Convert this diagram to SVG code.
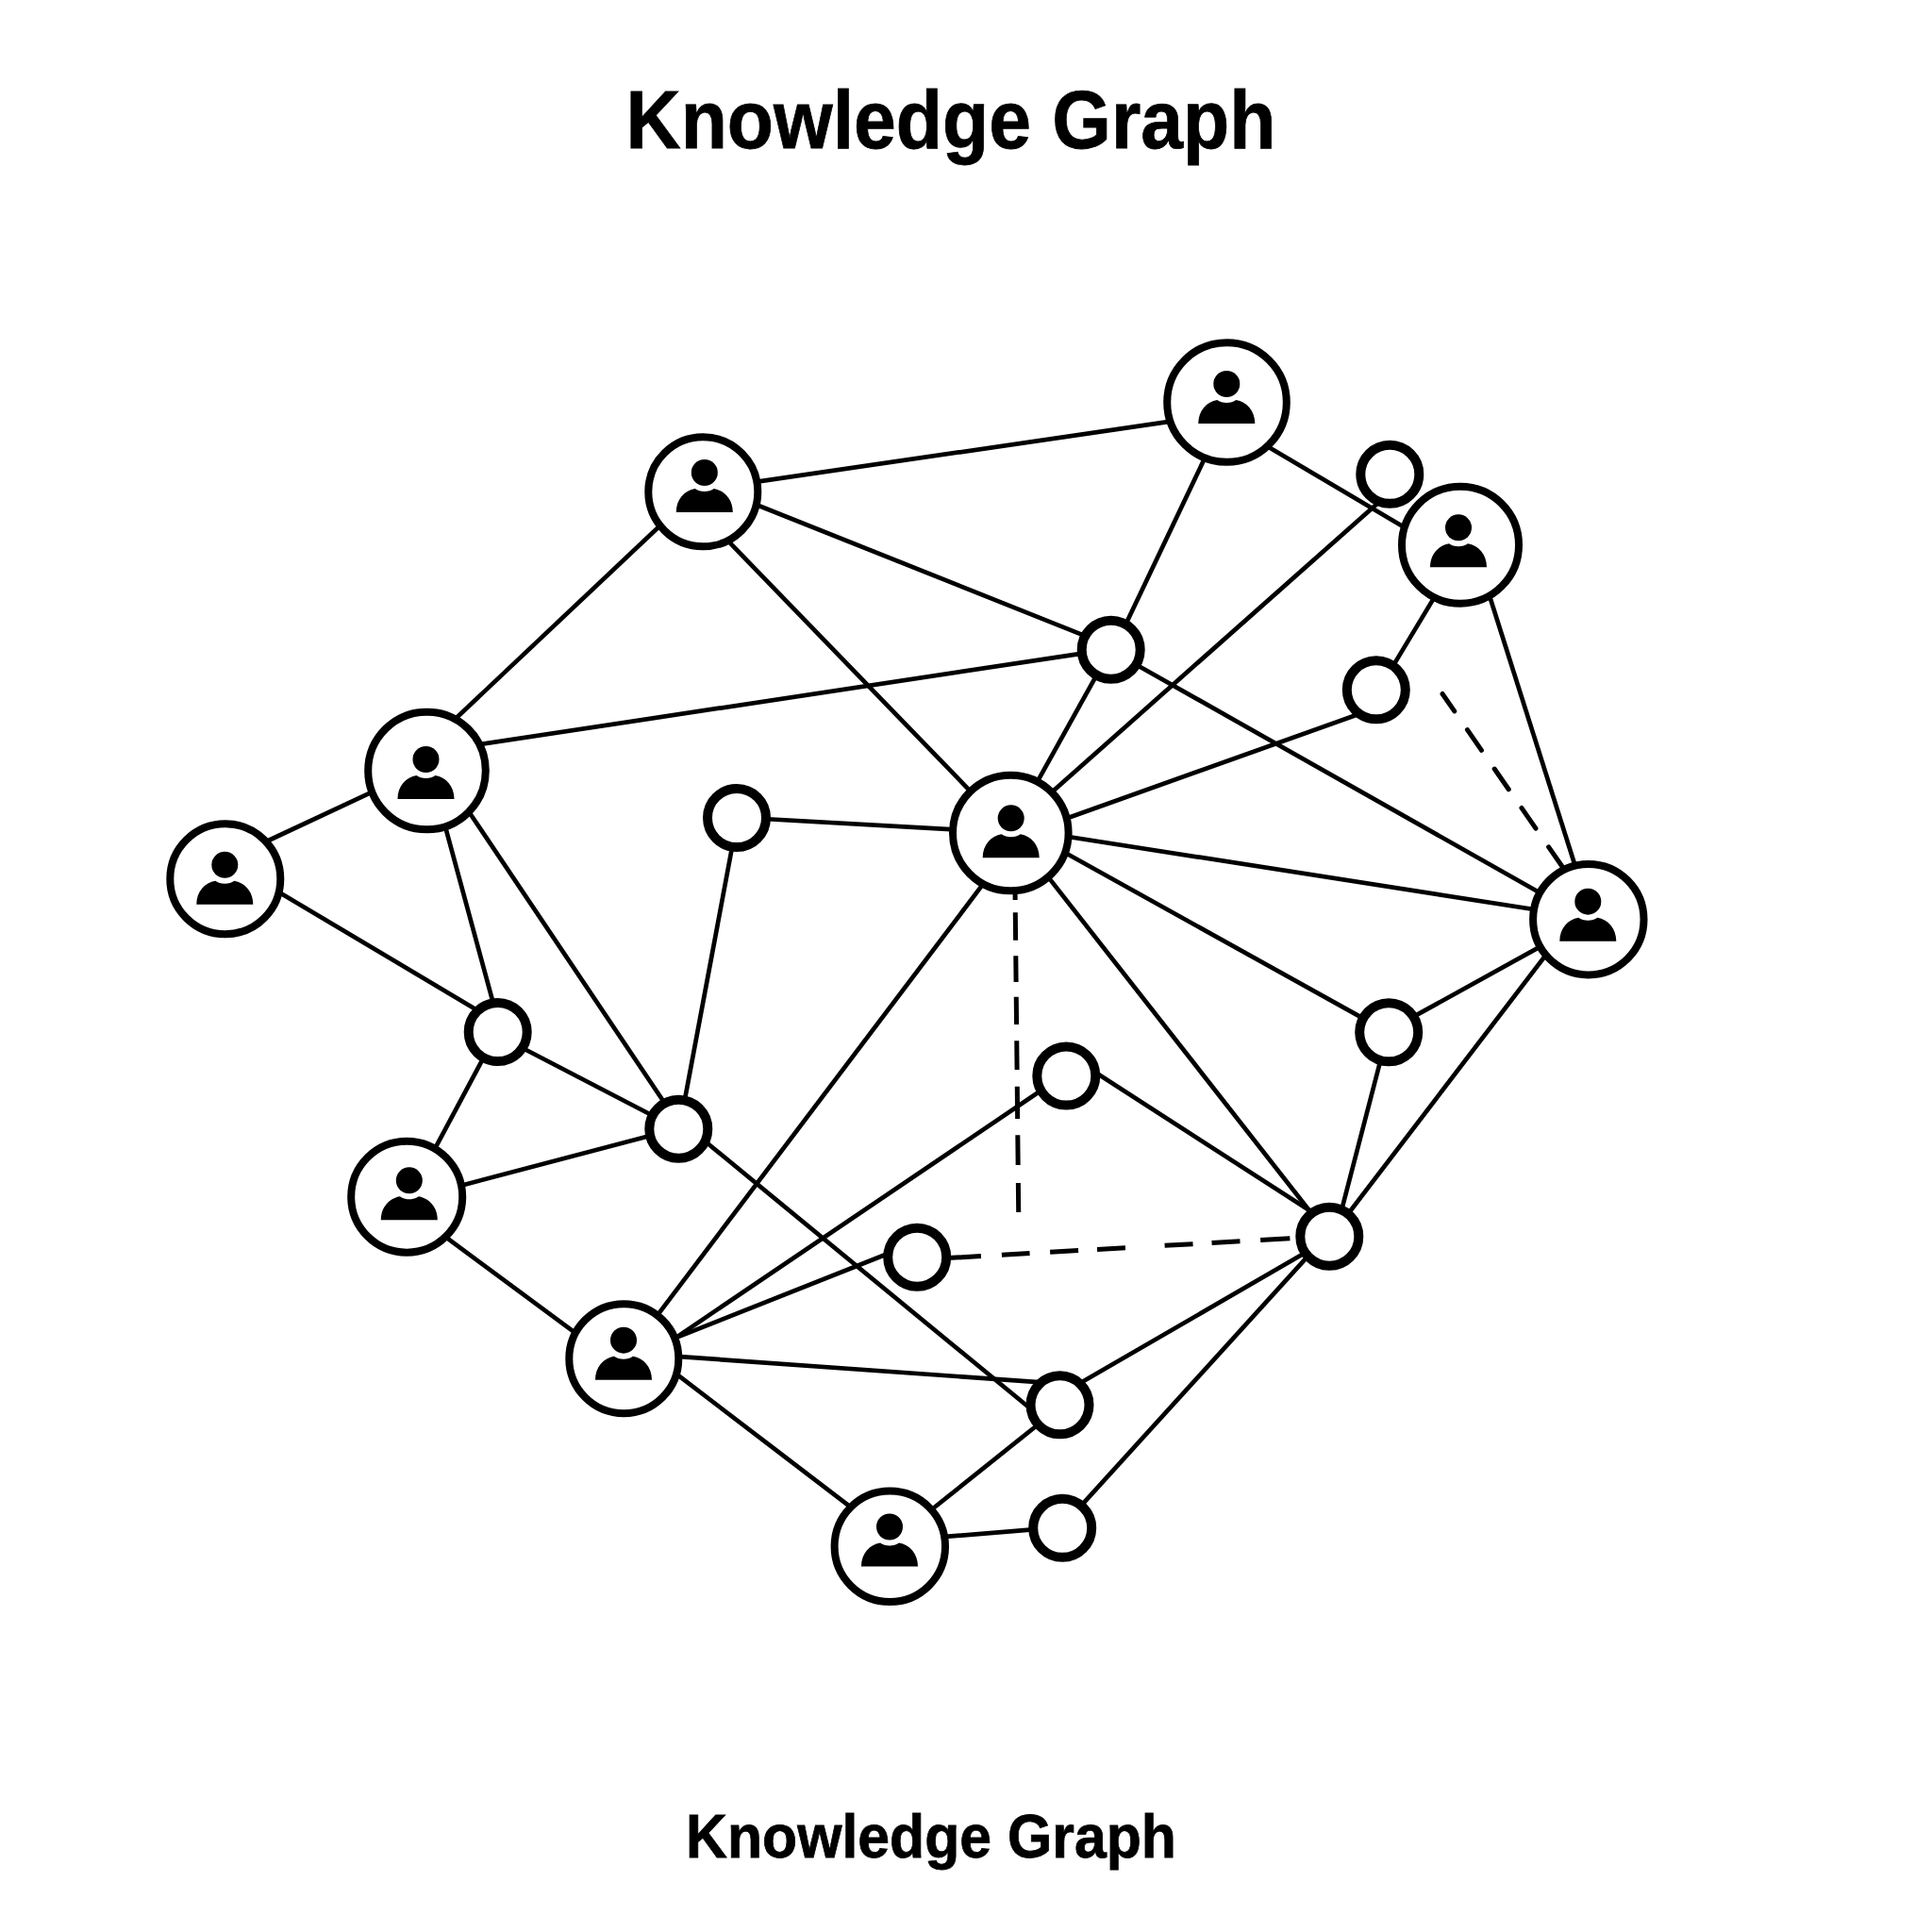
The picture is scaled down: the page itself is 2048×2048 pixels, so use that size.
<svg xmlns="http://www.w3.org/2000/svg" width="2048" height="2048" viewBox="0 0 2048 2048">
<style>
text{font-family:"Liberation Sans",Arial,sans-serif;font-weight:700;fill:#000;stroke:#000;stroke-width:.8;text-anchor:middle}
.e{stroke:#000;stroke-width:4.7;fill:none}
.d{stroke:#000;stroke-width:5;fill:none}
.b{fill:#fff;stroke:#000;stroke-width:8}
.s{fill:#fff;stroke:#000;stroke-width:10}
</style>
<defs>
<g id="person"><circle cx="0" cy="-16" r="14"/><path d="M-30,26C-30,12-21,3-10,1C-5,5 5,5 10,1C21,3 30,12 30,26Z"/></g>
</defs>
<rect width="2048" height="2048" fill="#fff"/>
<text x="1008" y="157" font-size="87" textLength="689" lengthAdjust="spacingAndGlyphs">Knowledge Graph</text>
<text x="987" y="1969" font-size="65" textLength="520" lengthAdjust="spacingAndGlyphs">Knowledge Graph</text>
<g id="connectors">
<line class="e" x1="800.8" y1="510.9" x2="1243.2" y2="446.4"/>
<line class="e" x1="1341.5" y1="472" x2="1491.2" y2="560.4"/>
<line class="e" x1="1277.6" y1="484.6" x2="1192.4" y2="663.7"/>
<line class="e" x1="800.4" y1="534.5" x2="1152.3" y2="674.9"/>
<line class="e" x1="701" y1="556" x2="480.6" y2="764"/>
<line class="e" x1="770.8" y1="572.4" x2="1029.2" y2="839.3"/>
<line class="e" x1="507.4" y1="789.2" x2="1149.2" y2="692.4"/>
<line class="e" x1="395.4" y1="839.2" x2="281.3" y2="892.5"/>
<line class="e" x1="471.7" y1="875.2" x2="523.3" y2="1065.1"/>
<line class="e" x1="496.7" y1="860" x2="705" y2="1170"/>
<line class="e" x1="294.8" y1="945.2" x2="506.9" y2="1071.4"/>
<line class="e" x1="512.8" y1="1120.7" x2="460.5" y2="1218.6"/>
<line class="e" x1="553" y1="1110.5" x2="693.6" y2="1183.5"/>
<line class="e" x1="486.9" y1="1257.2" x2="690.8" y2="1203.5"/>
<line class="e" x1="470.2" y1="1309.7" x2="610.8" y2="1413.6"/>
<line class="e" x1="696.4" y1="1394.8" x2="1043.6" y2="935.2"/>
<line class="e" x1="713.3" y1="1420.1" x2="1105" y2="1155"/>
<line class="e" x1="714.4" y1="1418.9" x2="942.3" y2="1328.5"/>
<line class="e" x1="717.3" y1="1437.9" x2="1104.3" y2="1465.4"/>
<line class="e" x1="716.9" y1="1456.4" x2="903.1" y2="1598.6"/>
<line class="e" x1="985.3" y1="1602" x2="1103" y2="1508"/>
<line class="e" x1="999" y1="1629.2" x2="1097.7" y2="1621.2"/>
<line class="e" x1="1146" y1="1596.1" x2="1385.7" y2="1332.3"/>
<line class="e" x1="1144.8" y1="1466.3" x2="1385.2" y2="1327"/>
<line class="e" x1="747" y1="1209.5" x2="1093" y2="1493.8"/>
<line class="e" x1="777" y1="893" x2="725.5" y2="1168"/>
<line class="e" x1="809" y1="868" x2="1012" y2="879.3"/>
<line class="e" x1="1098.8" y1="830.2" x2="1162.9" y2="714.8"/>
<line class="e" x1="1113.8" y1="840.7" x2="1459.5" y2="534.3"/>
<line class="e" x1="1129.3" y1="868" x2="1442.4" y2="756.3"/>
<line class="e" x1="1130.8" y1="886.8" x2="1627.6" y2="964.2"/>
<line class="e" x1="1128.8" y1="903.8" x2="1445.2" y2="1079.6"/>
<line class="e" x1="1110.3" y1="928.6" x2="1390.4" y2="1286.4"/>
<line class="e" x1="1203" y1="703.7" x2="1635.2" y2="948"/>
<line class="e" x1="1475.2" y1="708.4" x2="1521.4" y2="631.6"/>
<line class="e" x1="1578.2" y1="629.3" x2="1670.1" y2="919"/>
<line class="e" x1="1635.2" y1="1002.1" x2="1498.1" y2="1077.9"/>
<line class="e" x1="1640.3" y1="1010.2" x2="1428.1" y2="1288"/>
<line class="e" x1="1463.8" y1="1122.5" x2="1421.8" y2="1284.1"/>
<line class="e" x1="1157.3" y1="1134.3" x2="1388.3" y2="1283.2"/>
<line class="d" x1="1076" y1="940" x2="1079.7" y2="1285" stroke-dasharray="14 13.3 29.4 16.6 27.7 15.7 29.3 17.3 30.7 17.7 34.3 17.3 31.7 19 31"/>
<line class="d" x1="1000" y1="1333.8" x2="1368" y2="1312.7" stroke-dasharray="40 22 29.7 21.6 30 20 30 41.7 30 20 30 21.7 31.3"/>
<line class="d" stroke-linecap="round" x1="1529" y1="735.5" x2="1657" y2="920" stroke-dasharray="22.4 24 26.4 24 26.4 24 26.4 24 26.4"/>
</g>
<g id="n1"><circle class="b" cx="1300.5" cy="426.5" r="63.3"/><use href="#person" x="1300.3" y="423"/></g>
<g id="n2"><circle class="b" cx="745.3" cy="521.3" r="58"/><use href="#person" x="746.8" y="517"/></g>
<g id="n3"><circle class="b" cx="1548" cy="577.7" r="62"/><use href="#person" x="1546" y="575.3"/></g>
<g id="n4"><circle class="b" cx="452.5" cy="817" r="62.3"/><use href="#person" x="451.5" y="821"/></g>
<g id="n5"><circle class="b" cx="1071.3" cy="883" r="61.3"/><use href="#person" x="1071.7" y="883.3"/></g>
<g id="n6"><circle class="b" cx="238.8" cy="931.7" r="58.5"/><use href="#person" x="238.3" y="932.8"/></g>
<g id="n7"><circle class="b" cx="1683.8" cy="974.7" r="58.7"/><use href="#person" x="1683.3" y="971.7"/></g>
<g id="n8"><circle class="b" cx="431.2" cy="1268.7" r="59"/><use href="#person" x="433.8" y="1267.3"/></g>
<g id="n9"><circle class="b" cx="661.3" cy="1440.2" r="58"/><use href="#person" x="661" y="1436.7"/></g>
<g id="n10"><circle class="b" cx="943.3" cy="1639.3" r="58.7"/><use href="#person" x="943" y="1634.5"/></g>
<g id="s1"><circle class="s" cx="1473.3" cy="502.8" r="31"/></g>
<g id="s2"><circle class="s" cx="1177.7" cy="688.7" r="31"/></g>
<g id="s3"><circle class="s" cx="1458.8" cy="731.3" r="31"/></g>
<g id="s4"><circle class="s" cx="781" cy="867" r="31"/></g>
<g id="s5"><circle class="s" cx="527.7" cy="1094" r="31"/></g>
<g id="s6"><circle class="s" cx="1472.2" cy="1094.3" r="31"/></g>
<g id="s7"><circle class="s" cx="1130.3" cy="1140.5" r="31"/></g>
<g id="s8"><circle class="s" cx="719.3" cy="1196.7" r="31"/></g>
<g id="s9"><circle class="s" cx="1409.3" cy="1310.7" r="31"/></g>
<g id="s10"><circle class="s" cx="972.2" cy="1332.7" r="31"/></g>
<g id="s11"><circle class="s" cx="1123.5" cy="1489.3" r="31"/></g>
<g id="s12"><circle class="s" cx="1126.2" cy="1619.8" r="31"/></g>
</svg>
